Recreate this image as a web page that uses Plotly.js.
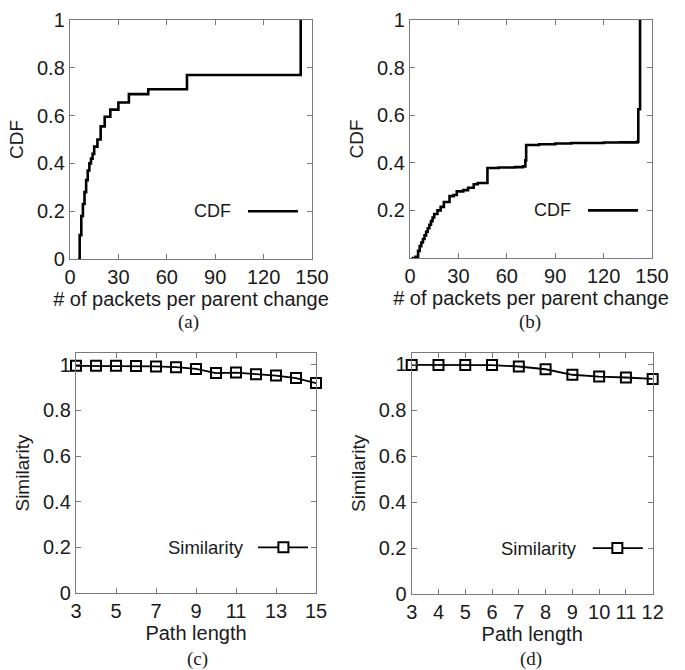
<!DOCTYPE html>
<html>
<head>
<meta charset="utf-8">
<script src="https://cdn.plot.ly/plotly-3.0.1.min.js"></script>
<style>html,body{margin:0;padding:0;background:#fff;}#chart{width:685px;height:670px;}</style>
</head>
<body>
<div id="chart"></div>
<script>
// (a) CDF of packets per parent change
const aX = [5, 6, 7, 8, 9, 10, 11, 12, 13, 14, 15, 17, 19, 21.5, 25, 30, 36.5, 48.5, 72.5, 143];
const aY = [0.0, 0.1, 0.18, 0.23, 0.28, 0.33, 0.37, 0.40, 0.42, 0.44, 0.47, 0.50, 0.555, 0.595, 0.625, 0.655, 0.69, 0.71, 0.77, 1.0];
// (b) CDF of packets per parent change
const bX = [1, 3.5, 5, 6, 7, 8, 9, 10, 11, 12, 13, 14, 15, 17, 19, 21, 24.5, 27, 29, 33, 36, 39.5, 42, 48, 55, 65, 70, 71.5, 72, 80, 90, 100, 120, 130, 141, 141.5, 142.6];
const bY = [0.0, 0.005, 0.03, 0.05, 0.065, 0.08, 0.095, 0.11, 0.125, 0.14, 0.155, 0.17, 0.185, 0.2, 0.215, 0.235, 0.26, 0.265, 0.28, 0.285, 0.295, 0.31, 0.315, 0.378, 0.38, 0.382, 0.385, 0.41, 0.475, 0.478, 0.481, 0.483, 0.485, 0.486, 0.489, 0.625, 1.0];
// (c) Similarity vs path length
const cX = [3, 4, 5, 6, 7, 8, 9, 10, 11, 12, 13, 14, 15];
const cY = [0.996, 0.996, 0.996, 0.995, 0.993, 0.990, 0.982, 0.964, 0.966, 0.959, 0.953, 0.942, 0.920];
// (d) Similarity vs path length
const dX = [3, 4, 5, 6, 7, 8, 9, 10, 11, 12];
const dY = [0.997, 0.997, 0.997, 0.996, 0.990, 0.978, 0.954, 0.946, 0.942, 0.936];

const xTicksAB = [0, 30, 60, 90, 120, 150];
const yTicksA = [0, 0.2, 0.4, 0.6, 0.8, 1];
const yTicksB = [0.2, 0.4, 0.6, 0.8, 1];
const yTicksCD = [0, 0.2, 0.4, 0.6, 0.8, 1];
const xTicksC = [3, 5, 7, 9, 11, 13, 15];
const xTicksD = [3, 4, 5, 6, 7, 8, 9, 10, 11, 12];

const W = 685, H = 670;
const FONT = 'Liberation Sans, Arial, sans-serif';
const SERIF = 'Liberation Serif, Times New Roman, serif';
const txt = '#1a1a1a';
const frame = '#7a7a7a';

function px(a, b) { return [a / W, b / W]; }
function py(top, bottom) { return [1 - bottom / H, 1 - top / H]; }

function axisBase(extra) {
  return Object.assign({
    showline: true, mirror: 'ticks', linecolor: frame, linewidth: 1.2,
    ticks: 'inside', ticklen: 5, tickcolor: frame, tickwidth: 1,
    showgrid: false, zeroline: false, tickmode: 'array',
    tickfont: {family: FONT, size: 20, color: txt},
    automargin: false, fixedrange: true
  }, extra);
}

const lineStyle = {color: '#000', width: 2.6};
const traces = [
  {x: aX, y: aY, type: 'scatter', mode: 'lines', line: Object.assign({shape: 'hv'}, lineStyle), xaxis: 'x', yaxis: 'y', showlegend: false},
  {x: bX, y: bY, type: 'scatter', mode: 'lines', line: Object.assign({shape: 'hv'}, lineStyle), xaxis: 'x2', yaxis: 'y2', showlegend: false},
  {x: cX, y: cY, type: 'scatter', mode: 'lines+markers', line: {color: '#000', width: 1.8},
   marker: {symbol: 'square-open', size: 10, color: '#000', line: {width: 2, color: '#000'}},
   xaxis: 'x3', yaxis: 'y3', showlegend: false, cliponaxis: false},
  {x: dX, y: dY, type: 'scatter', mode: 'lines+markers', line: {color: '#000', width: 1.8},
   marker: {symbol: 'square-open', size: 10, color: '#000', line: {width: 2, color: '#000'}},
   xaxis: 'x4', yaxis: 'y4', showlegend: false, cliponaxis: false}
];

const xTitleA = {text: '# of packets per parent change', font: {family: FONT, size: 20, color: txt}, standoff: 2};
const xTitleC = {text: 'Path length', font: {family: FONT, size: 20, color: txt}, standoff: 2};
const yTitleFont = {family: FONT, size: 19, color: txt};

const layout = {
  width: W, height: H,
  margin: {l: 0, r: 0, t: 0, b: 0},
  paper_bgcolor: '#fff', plot_bgcolor: '#fff',
  showlegend: false,
  xaxis: axisBase({domain: px(70, 312), range: [0, 150], tickvals: xTicksAB, anchor: 'y', title: xTitleA}),
  yaxis: axisBase({domain: py(20, 259), range: [0, 1], tickvals: yTicksA, anchor: 'x',
    title: {text: 'CDF', font: yTitleFont, standoff: 8}}),
  xaxis2: axisBase({domain: px(410, 652), range: [0, 150], tickvals: xTicksAB, anchor: 'y2', title: xTitleA}),
  yaxis2: axisBase({domain: py(20, 258), range: [0, 1], tickvals: yTicksB, anchor: 'x2',
    title: {text: 'CDF', font: yTitleFont, standoff: 8}}),
  xaxis3: axisBase({domain: px(76, 316), range: [3, 15], tickvals: xTicksC, anchor: 'y3', title: xTitleC}),
  yaxis3: axisBase({domain: py(353, 593), range: [0, 1.052], tickvals: yTicksCD, anchor: 'x3',
    title: {text: 'Similarity', font: yTitleFont, standoff: 8}}),
  xaxis4: axisBase({domain: px(411.7, 652.7), range: [3, 12], tickvals: xTicksD, anchor: 'y4', title: xTitleC}),
  yaxis4: axisBase({domain: py(352.7, 594), range: [0, 1.05], tickvals: yTicksCD, anchor: 'x4',
    title: {text: 'Similarity', font: yTitleFont, standoff: 8}}),
  annotations: [
    {text: '(a)', xref: 'paper', yref: 'paper', x: 188 / W, y: 1 - 322 / H, xanchor: 'center', yanchor: 'middle', showarrow: false, font: {family: SERIF, size: 19, color: txt}},
    {text: '(b)', xref: 'paper', yref: 'paper', x: 530 / W, y: 1 - 322 / H, xanchor: 'center', yanchor: 'middle', showarrow: false, font: {family: SERIF, size: 19, color: txt}},
    {text: '(c)', xref: 'paper', yref: 'paper', x: 197 / W, y: 1 - 659 / H, xanchor: 'center', yanchor: 'middle', showarrow: false, font: {family: SERIF, size: 19, color: txt}},
    {text: '(d)', xref: 'paper', yref: 'paper', x: 531 / W, y: 1 - 659 / H, xanchor: 'center', yanchor: 'middle', showarrow: false, font: {family: SERIF, size: 19, color: txt}},
    {text: 'CDF', xref: 'x', yref: 'y', x: 101, y: 0.2, xanchor: 'right', yanchor: 'middle', showarrow: false, font: {family: FONT, size: 18, color: txt}},
    {text: 'CDF', xref: 'x2', yref: 'y2', x: 101, y: 0.2, xanchor: 'right', yanchor: 'middle', showarrow: false, font: {family: FONT, size: 18, color: txt}},
    {text: 'Similarity', xref: 'x3', yref: 'y3', x: 11.5, y: 0.2, xanchor: 'right', yanchor: 'middle', showarrow: false, font: {family: FONT, size: 18.5, color: txt}},
    {text: 'Similarity', xref: 'x4', yref: 'y4', x: 9.26, y: 0.2, xanchor: 'right', yanchor: 'middle', showarrow: false, font: {family: FONT, size: 18.5, color: txt}}
  ],
  shapes: [
    {type: 'line', xref: 'x', yref: 'y', x0: 110.3, x1: 141.3, y0: 0.2, y1: 0.2, line: {color: '#000', width: 2.6}},
    {type: 'line', xref: 'x2', yref: 'y2', x0: 110.3, x1: 141.3, y0: 0.2, y1: 0.2, line: {color: '#000', width: 2.6}},
    {type: 'line', xref: 'x3', yref: 'y3', x0: 12.1, x1: 14.6, y0: 0.2, y1: 0.2, line: {color: '#000', width: 1.8}},
    {type: 'rect', xref: 'x3', yref: 'y3', xsizemode: 'pixel', ysizemode: 'pixel', xanchor: 13.37, yanchor: 0.2,
     x0: -5, x1: 5, y0: -5, y1: 5, fillcolor: '#fff', line: {color: '#000', width: 2}},
    {type: 'line', xref: 'x4', yref: 'y4', x0: 9.76, x1: 11.63, y0: 0.2, y1: 0.2, line: {color: '#000', width: 1.8}},
    {type: 'rect', xref: 'x4', yref: 'y4', xsizemode: 'pixel', ysizemode: 'pixel', xanchor: 10.68, yanchor: 0.2,
     x0: -5, x1: 5, y0: -5, y1: 5, fillcolor: '#fff', line: {color: '#000', width: 2}}
  ]
};

Plotly.newPlot('chart', traces, layout, {displayModeBar: false, staticPlot: true});
</script>
</body>
</html>
